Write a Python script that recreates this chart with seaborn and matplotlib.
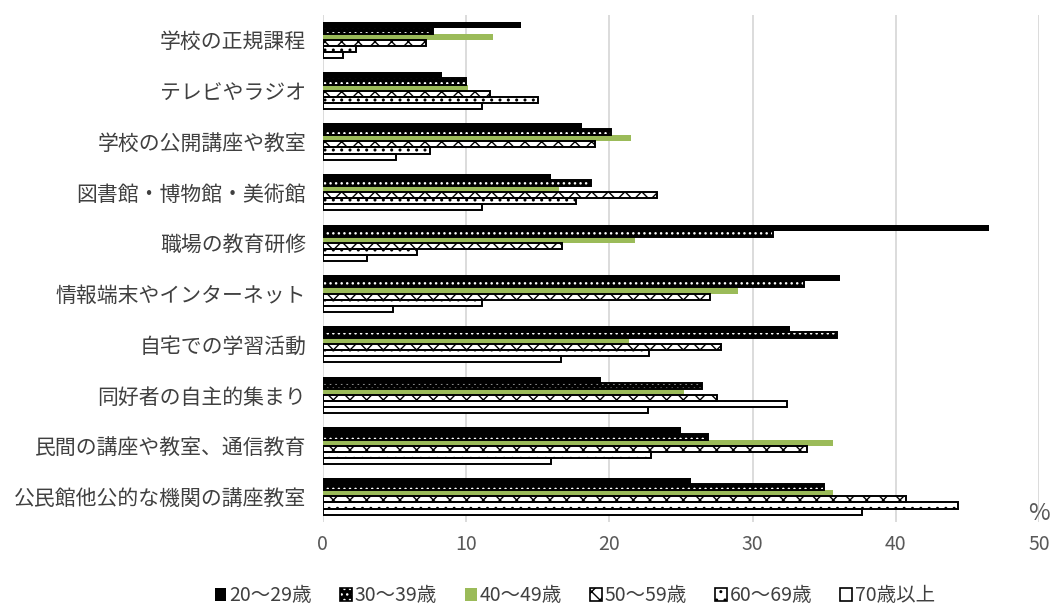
import pandas as pd
import seaborn as sns
import matplotlib.pyplot as plt
from matplotlib.patches import Rectangle, Patch
from matplotlib.legend_handler import HandlerTuple

# 学習の場（年代別、%）
categories = ['学校の正規課程', 'テレビやラジオ', '学校の公開講座や教室',
              '図書館・博物館・美術館', '職場の教育研修', '情報端末やインターネット',
              '自宅での学習活動', '同好者の自主的集まり', '民間の講座や教室、通信教育',
              '公民館他公的な機関の講座教室']
age_groups = ['20～29歳', '30～39歳', '40～49歳', '50～59歳', '60～69歳', '70歳以上']

age_20s = [13.8, 8.3, 18.1, 15.9, 46.5, 36.1, 32.6, 19.4, 25.0, 25.7]
age_30s = [7.7, 10.0, 20.1, 18.7, 31.4, 33.6, 35.9, 26.5, 26.9, 35.0]
age_40s = [11.9, 10.1, 21.5, 16.5, 21.8, 29.0, 21.4, 25.2, 35.6, 35.6]
age_50s = [7.2, 11.7, 19.0, 23.3, 16.7, 27.0, 27.8, 27.5, 33.8, 40.7]
age_60s = [2.3, 15.0, 7.5, 17.7, 6.6, 11.1, 22.8, 32.4, 22.9, 44.3]
age_70s = [1.4, 11.1, 5.1, 11.1, 3.1, 4.9, 16.6, 22.7, 15.9, 37.6]

x_ticks = [0, 10, 20, 30, 40, 50]

series = [age_20s, age_30s, age_40s, age_50s, age_60s, age_70s]
rows = []
for age, vals in zip(age_groups, series):
    for cat, v in zip(categories, vals):
        rows.append({'category': cat, 'age': age, 'value': v})
df = pd.DataFrame(rows)

# 塗り・ハッチ・枠線
face = ['black', 'black', '#9bbb59', 'white', 'white', 'white']
hatch_col = ['black', 'white', '#9bbb59', 'black', 'black', 'black']
hatches = ['', '...', '', 'xx', '..', '']
outline = [False, True, False, True, True, True]

sns.set_style('white')
plt.rcParams['font.family'] = ['Noto Sans CJK JP', 'DejaVu Sans']
plt.rcParams['hatch.linewidth'] = 1.0

fig = plt.figure(figsize=(10.55, 6.06), dpi=100)
ax = fig.add_axes([0.306, 0.139, 0.679, 0.837])

sns.barplot(data=df, y='category', x='value', hue='age', hue_order=age_groups,
            order=categories, orient='h', palette=face, width=0.72,
            legend=False, ax=ax)

for i, cont in enumerate(ax.containers):
    for bar in cont:
        bar.set_facecolor(face[i])
        bar.set_edgecolor(hatch_col[i])
        bar.set_hatch(hatches[i])
        bar.set_linewidth(0)
        bar.set_zorder(2)
        if outline[i]:
            ax.add_patch(Rectangle((bar.get_x(), bar.get_y()), bar.get_width(),
                                   bar.get_height(), fill=False,
                                   edgecolor='black', linewidth=1.4, zorder=3))

ax.set_xlim(0, 50)
ax.set_ylim(len(categories) - 0.5, -0.5)
ax.set_xticks(x_ticks)
ax.xaxis.grid(True, color='#d9d9d9', linewidth=1.3)
ax.set_axisbelow(True)
for s in ax.spines.values():
    s.set_visible(False)
ax.set_xlabel('')
ax.set_ylabel('')
ax.tick_params(axis='y', length=0, pad=12, labelsize=15, labelcolor='#404040')
ax.tick_params(axis='x', length=0, pad=9, labelsize=14, labelcolor='#595959')

ax.text(50, 0.016, '%', transform=ax.get_xaxis_transform(), ha='center',
        va='center', fontsize=17, color='#595959')

# 凡例：ハッチの上に黒枠を重ねる
handles = []
for i in range(len(age_groups)):
    fill = Patch(facecolor=face[i], edgecolor=hatch_col[i], hatch=hatches[i],
                 linewidth=0)
    if outline[i]:
        edge = Patch(facecolor='none', edgecolor='black', linewidth=1.2)
        handles.append((fill, edge))
    else:
        handles.append(fill)
leg = fig.legend(handles, age_groups, loc='center', bbox_to_anchor=(0.545, 0.017),
                 ncol=6, frameon=False, fontsize=14, handlelength=0.6,
                 handleheight=0.6, handletextpad=0.15, columnspacing=1.45,
                 handler_map={tuple: HandlerTuple(ndivide=1, pad=0)})
for t in leg.get_texts():
    t.set_color('#404040')

fig.savefig('out.png', dpi=100)
